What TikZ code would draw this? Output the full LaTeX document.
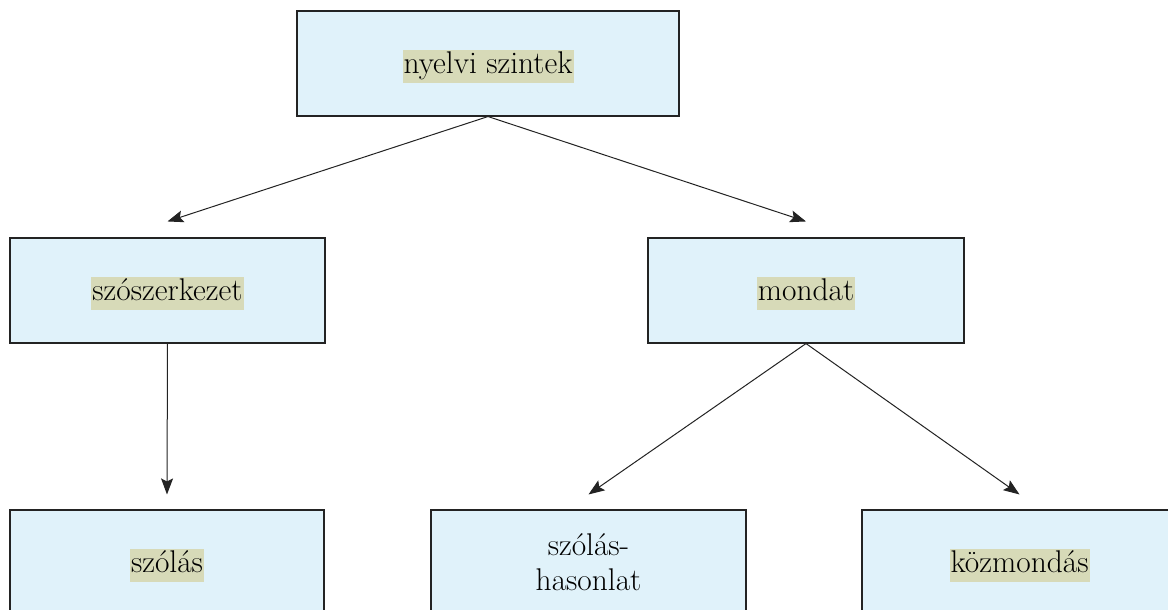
\documentclass[tikz,border=0pt]{standalone}
\usetikzlibrary{arrows.meta,calc}
\definecolor{boxfill}{RGB}{224,242,250}
\definecolor{hlfill}{RGB}{215,218,184}
\definecolor{edgecol}{RGB}{35,35,35}
% highlighted label text, set slightly below the box centre
\newcommand{\hltext}[1]{{\setlength{\fboxsep}{0pt}\raisebox{-3pt}[\height][\depth]{\colorbox{hlfill}{\rule[-0.33em]{0pt}{1.08em}\kern1pt#1\kern1pt}}}}
\begin{document}
\begin{tikzpicture}[x=1pt,y=-1pt,
  levelbox/.style={draw=edgecol, line width=1.1pt, fill=boxfill,
    minimum width=315pt, minimum height=105pt, inner sep=0pt,
    font=\fontsize{31.4}{35}\selectfont, align=center},
  arr/.style={draw=edgecol, line width=1pt, -{Stealth[length=16pt,width=12pt,inset=3pt]}}]
\clip (0,0) rectangle (1168,610);
\fill[white] (0,0) rectangle (1168,610);

\node[levelbox, minimum width=382pt] (top) at (488,63.5) {\hltext{nyelvi szintek}};
\node[levelbox] (szo) at (167.5,290.5) {\hltext{szószerkezet}};
\node[levelbox, minimum width=316pt] (mondat) at (806,290.5) {\hltext{mondat}};
\node[levelbox, minimum width=314pt] (szolas) at (167,562.5) {\hltext{szólás}};
\node[levelbox] (hason) at (588.5,562.5) {szólás-\\hasonlat};
\node[levelbox] (koz) at (1019.5,562.5) {\hltext{közmondás}};

\draw[arr] (top.south) -- ($(szo.north)+(0,-16)$);
\draw[arr] (top.south) -- ($(mondat.north)+(0,-16)$);
\draw[arr] (szo.south) -- ($(szolas.north)+(0,-15)$);
\draw[arr] (mondat.south) -- ($(hason.north)+(0,-15)$);
\draw[arr] (mondat.south) -- ($(koz.north)+(0,-15)$);
\end{tikzpicture}
\end{document}
